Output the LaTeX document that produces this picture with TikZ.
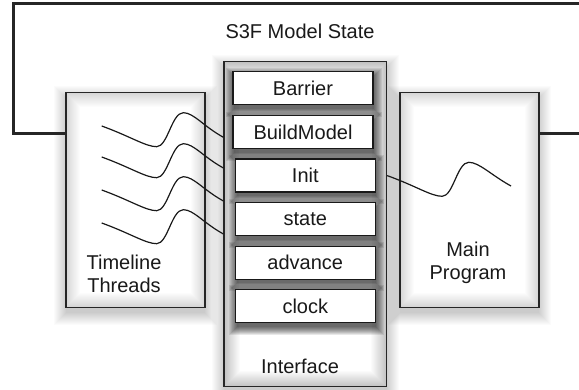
\documentclass[tikz,border=0pt]{standalone}
\usepackage{fontspec}
\setmainfont{Liberation Sans}
\usetikzlibrary{calc}

% stacked translucent rectangles give a soft, blurred shadow
\newcommand\softshade[6]{%
  \foreach \k in {0,...,#5}{%
    \fill[black,opacity=#6] (#1-#5+\k,#2-#5+\k) rectangle (#3+#5-\k,#4+#5-\k);}}

% a wavy thread from (#1) to (#2)
\newcommand\thread[2]{%
  \draw[wave] (#1) .. controls ($(#1)+(29,10.5)$) and ($(#1)+(44,20.7)$) .. ($(#1)+(55,20.7)$)
    .. controls ($(#1)+(66,20.7)$) and ($(#1)+(70,-13.3)$) .. ($(#1)+(81.6,-13.3)$)
    .. controls ($(#1)+(92,-13.3)$) and ($(#2)+(-20,-11)$) .. (#2);}

\begin{document}
\begin{tikzpicture}[x=1pt,y=-1pt,
  txt/.style={font=\fontsize{20}{23}\selectfont,text=black!90},
  panel/.style={draw=black!85,line width=1.1pt,fill=white,inner sep=0pt,
                minimum width=139pt,minimum height=214.6pt},
  glow/.style 2 args={path picture={%
    \foreach \k in {1,...,#1}{%
      \pgfmathsetmacro\op{#2*(1-(\k-1)/#1)}%
      \draw[black,opacity=\op,line width=1pt]
        ([shift={(\k-0.5,\k-0.5)}]path picture bounding box.north west) rectangle
        ([shift={(-\k+0.5,-\k+0.5)}]path picture bounding box.south east);}}},
  opbox/.style={txt,draw=black!90,line width=1.3pt,fill=white,inner sep=0pt,
                minimum width=140pt,minimum height=33pt},
  wave/.style={draw=black!90,line width=1.2pt},
  frame/.style={draw=black!85,line width=3pt}]

\clip (0,0) rectangle (579,390);
\fill[white] (0,0) rectangle (579,390);

% shadows under the three panels
\softshade{66}{98}{205}{313}{12}{0.014}
\softshade{400}{98}{539}{313}{12}{0.014}
\softshade{224}{67}{387}{392}{12}{0.014}

% the three panels
\node[panel,glow={14}{0.16}] (threads) at (135.5,200) {};
\node[panel,glow={14}{0.16}] (prog) at (469.5,200) {};
\node[panel,minimum width=162.7pt,minimum height=325pt,glow={16}{0.24}] (iface) at (305.3,224.2) {};

% shadows of the interface calls
\softshade{234}{75.7}{374}{109}{8}{0.09}
\softshade{234}{119.7}{374}{153}{8}{0.09}
\softshade{236.7}{163}{376}{196.3}{8}{0.09}
\softshade{236.7}{206.7}{376}{239.7}{8}{0.09}
\softshade{236.7}{250}{376}{283.3}{8}{0.09}
\softshade{236.7}{293.3}{376}{326.7}{8}{0.09}

% interface calls
\node[opbox] (barrier) at (303,88.3) {Barrier};
\node[opbox] (build)   at (303,132.3) {BuildModel};
\node[opbox] (init)    at (305.3,175.6) {Init};
\node[opbox] (state)   at (305.3,219.2) {state};
\node[opbox] (advance) at (305.3,262.7) {advance};
\node[opbox] (clock)   at (305.3,306) {clock};

% labels
\node[txt] (title) at (300,31) {S3F Model State};
\node[txt,align=center] (tllabel) at (124,274.2) {Timeline\\Threads};
\node[txt,align=center] (mplabel) at (468,263) {Main\\Program};
\node[txt] (iflabel) at (300,366) {Interface};

% timeline threads entering the interface
\coordinate (t1) at (101.7,126);
\coordinate (t2) at (101.7,157);
\coordinate (t3) at (101.7,190);
\coordinate (t4) at (101.7,223);
\coordinate (e1) at (iface.west |- 0,137.3);
\coordinate (e2) at (iface.west |- 0,168);
\coordinate (e3) at (iface.west |- 0,201);
\coordinate (e4) at (iface.west |- 0,234);
\thread{t1}{e1}
\thread{t2}{e2}
\thread{t3}{e3}
\thread{t4}{e4}

% main program thread leaving the interface
\coordinate (m1) at (iface.east |- init);
\coordinate (m2) at (511,186);
\thread{m1}{m2}

% shared model state wrapped round everything
\coordinate (lc) at (13.3,134);
\coordinate (nw) at (13.3,3.8);
\coordinate (ne) at (592,3.8);
\coordinate (rc) at (592,134);
\draw[frame] (threads.west |- lc) -- (lc) -- (nw) -- (ne) -- (rc) -- (prog.east |- rc);

\end{tikzpicture}
\end{document}
